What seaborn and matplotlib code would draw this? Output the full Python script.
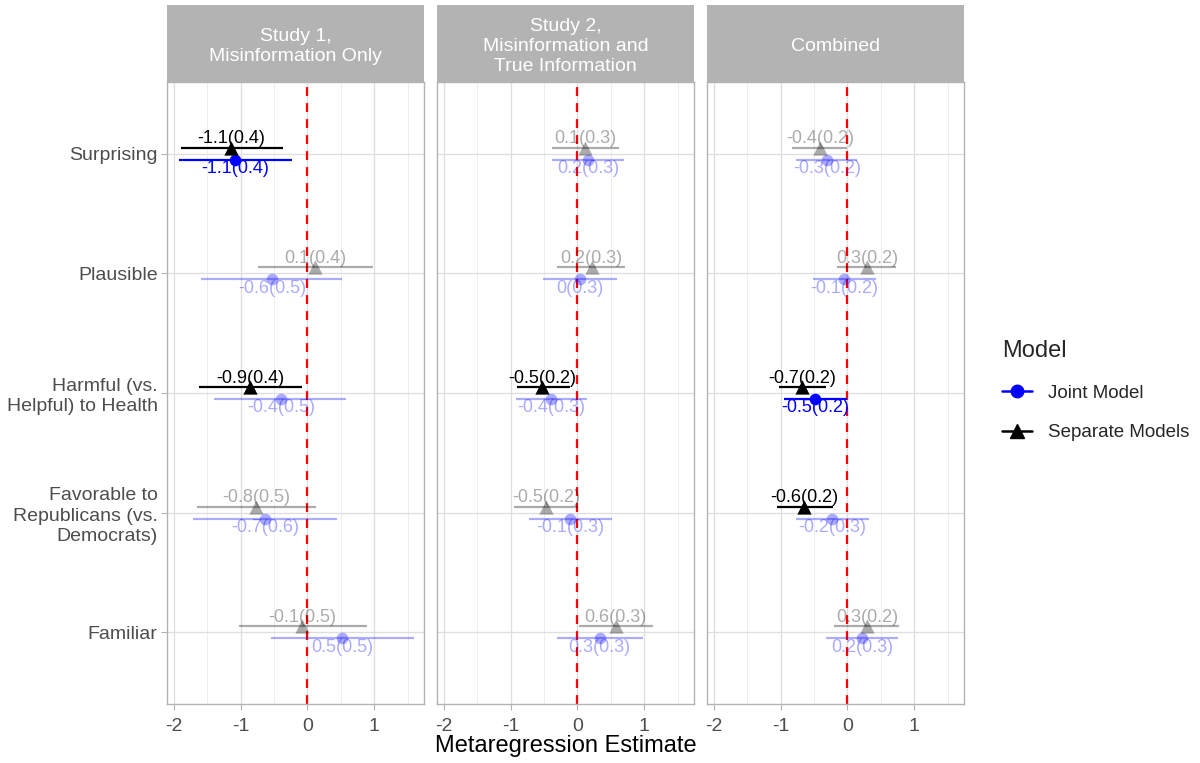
import numpy as np
import pandas as pd
import matplotlib
matplotlib.use("Agg")
import matplotlib.pyplot as plt
import seaborn as sns
from matplotlib.lines import Line2D
from matplotlib.colors import to_rgba

# ---------------- data ----------------
panels = ["Study 1,\nMisinformation Only",
          "Study 2,\nMisinformation and\nTrue Information",
          "Combined"]
outcomes = ["Surprising", "Plausible", "Harmful (vs.\nHelpful) to Health",
            "Favorable to\nRepublicans (vs.\nDemocrats)", "Familiar"]
models = ["Joint Model", "Separate Models"]

# Study 1
sep_est_s1 = [-1.14, 0.11, -0.86, -0.77, -0.08]
sep_lo_s1 = [-1.90, -0.74, -1.62, -1.66, -1.03]
sep_hi_s1 = [-0.36, 0.98, -0.08, 0.13, 0.885]
sep_lab_s1 = ["-1.1(0.4)", "0.1(0.4)", "-0.9(0.4)", "-0.8(0.5)", "-0.1(0.5)"]
sep_sig_s1 = [True, False, True, False, False]
joint_est_s1 = [-1.08, -0.53, -0.40, -0.64, 0.52]
joint_lo_s1 = [-1.93, -1.60, -1.40, -1.72, -0.54]
joint_hi_s1 = [-0.23, 0.51, 0.58, 0.44, 1.60]
joint_lab_s1 = ["-1.1(0.4)", "-0.6(0.5)", "-0.4(0.5)", "-0.7(0.6)", "0.5(0.5)"]
joint_sig_s1 = [True, False, False, False, False]

# Study 2
sep_est_s2 = [0.12, 0.21, -0.53, -0.47, 0.57]
sep_lo_s2 = [-0.38, -0.30, -0.91, -0.95, 0.02]
sep_hi_s2 = [0.62, 0.71, -0.11, 0.005, 1.13]
sep_lab_s2 = ["0.1(0.3)", "0.2(0.3)", "-0.5(0.2)", "-0.5(0.2)", "0.6(0.3)"]
sep_sig_s2 = [False, False, True, False, False]
joint_est_s2 = [0.16, 0.04, -0.40, -0.11, 0.33]
joint_lo_s2 = [-0.38, -0.51, -0.92, -0.72, -0.31]
joint_hi_s2 = [0.69, 0.59, 0.14, 0.51, 0.98]
joint_lab_s2 = ["0.2(0.3)", "0(0.3)", "-0.4(0.3)", "-0.1(0.3)", "0.3(0.3)"]
joint_sig_s2 = [False, False, False, False, False]

# Combined
sep_est_c = [-0.41, 0.29, -0.68, -0.645, 0.29]
sep_lo_c = [-0.83, -0.15, -1.03, -1.06, -0.20]
sep_hi_c = [-0.005, 0.72, -0.32, -0.21, 0.77]
sep_lab_c = ["-0.4(0.2)", "0.3(0.2)", "-0.7(0.2)", "-0.6(0.2)", "0.3(0.2)"]
sep_sig_c = [False, False, True, True, False]
joint_est_c = [-0.30, -0.05, -0.48, -0.23, 0.22]
joint_lo_c = [-0.77, -0.52, -0.95, -0.77, -0.32]
joint_hi_c = [0.15, 0.43, -0.005, 0.32, 0.76]
joint_lab_c = ["-0.3(0.2)", "-0.1(0.2)", "-0.5(0.2)", "-0.2(0.3)", "0.2(0.3)"]
joint_sig_c = [False, False, True, False, False]

x_ticks = [-2, -1, 0, 1]
x_tick_labels = ["-2", "-1", "0", "1"]

# ---------------- build table ----------------
series = [
    (panels[0], "Separate Models", sep_est_s1, sep_lo_s1, sep_hi_s1, sep_lab_s1, sep_sig_s1),
    (panels[0], "Joint Model", joint_est_s1, joint_lo_s1, joint_hi_s1, joint_lab_s1, joint_sig_s1),
    (panels[1], "Separate Models", sep_est_s2, sep_lo_s2, sep_hi_s2, sep_lab_s2, sep_sig_s2),
    (panels[1], "Joint Model", joint_est_s2, joint_lo_s2, joint_hi_s2, joint_lab_s2, joint_sig_s2),
    (panels[2], "Separate Models", sep_est_c, sep_lo_c, sep_hi_c, sep_lab_c, sep_sig_c),
    (panels[2], "Joint Model", joint_est_c, joint_lo_c, joint_hi_c, joint_lab_c, joint_sig_c),
]
rows = []
for pan, mod, est, lo, hi, lab, sig in series:
    for i, o in enumerate(outcomes):
        rows.append(dict(panel=pan, model=mod, outcome=o, oidx=i, est=est[i],
                         lo=lo[i], hi=hi[i], label=lab[i], sig=sig[i]))
df = pd.DataFrame(rows)
offset = {"Separate Models": -0.05, "Joint Model": 0.05}
label_off = {"Separate Models": -0.125, "Joint Model": 0.125}
df["ypos"] = df["oidx"] + df["model"].map(offset)

colors = {"Joint Model": "#0000FF", "Separate Models": "#000000"}
markers = {"Joint Model": "o", "Separate Models": "^"}
msize = {"Joint Model": 70, "Separate Models": 105}
FADE = 0.33

# ---------------- style ----------------
sns.set_theme(style="white")
plt.rcParams["font.family"] = ["Liberation Sans", "DejaVu Sans"]
GREY70 = "#B3B3B3"
GREY87 = "#DEDEDE"
GREY30 = "#4D4D4D"

W, H = 1200, 763
fig = plt.figure(figsize=(W / 100, H / 100), dpi=100)
fig.patch.set_facecolor("white")

px_left = [167.3, 437.3, 707.3]
px_w = 257.0
top_px, bot_px, strip_top = 82.0, 704.0, 5.0

for k, pan in enumerate(panels):
    ax = fig.add_axes([px_left[k] / W, 1 - bot_px / H, px_w / W, (bot_px - top_px) / H])
    sub = df[df["panel"] == pan]
    ax.set_xlim(-2.10, 1.75)
    ax.set_ylim(len(outcomes) - 1 + 0.6, -0.6)
    ax.set_facecolor("white")
    # grid
    for xv in [-1.5, -0.5, 0.5, 1.5]:
        ax.axvline(xv, color="#EBEBEB", lw=0.6, zorder=0)
    for xv in x_ticks:
        ax.axvline(xv, color=GREY87, lw=0.9, zorder=0)
    for yv in range(len(outcomes)):
        ax.axhline(yv, color=GREY87, lw=0.9, zorder=0)
    ax.axvline(0, color="#FF0000", lw=1.6, ls=(0, (4, 3.2)), zorder=1.5)

    # error bars
    for _, r in sub.iterrows():
        c = to_rgba(colors[r["model"]], 1.0 if r["sig"] else FADE)
        ax.hlines(r["ypos"], r["lo"], r["hi"], colors=[c], lw=1.6, zorder=2)
    # points
    for mod in models:
        for sg in [False, True]:
            d = sub[(sub["model"] == mod) & (sub["sig"] == sg)]
            if len(d) == 0:
                continue
            sns.scatterplot(data=d, x="est", y="ypos", ax=ax, color=colors[mod],
                            marker=markers[mod], s=msize[mod], linewidth=0,
                            alpha=1.0 if sg else FADE, legend=False, zorder=3)
    # labels
    for _, r in sub.iterrows():
        c = to_rgba(colors[r["model"]], 1.0 if r["sig"] else FADE)
        ax.text(r["est"], r["oidx"] + label_off[r["model"]], r["label"], color=c,
                ha="center", va="center", fontsize=13, zorder=4)

    ax.set_xticks(x_ticks)
    ax.set_xticklabels(x_tick_labels)
    ax.set_yticks(range(len(outcomes)))
    if k == 0:
        ax.set_yticklabels(outcomes)
        for t in ax.get_yticklabels():
            t.set_linespacing(1.25)
    else:
        ax.set_yticklabels([])
    ax.tick_params(axis="both", colors=GREY70, labelcolor=GREY30, labelsize=14,
                   length=4, width=0.8, pad=3, left=True, bottom=True)
    ax.tick_params(axis="x", pad=6)
    if k != 0:
        ax.tick_params(axis="y", left=False)
    ax.set_xlabel("")
    ax.set_ylabel("")
    for s in ax.spines.values():
        s.set_color(GREY70)
        s.set_linewidth(1.0)

    # strip
    sax = fig.add_axes([px_left[k] / W, 1 - top_px / H, px_w / W, (top_px - strip_top) / H])
    sax.set_facecolor(GREY70)
    sax.set_xticks([])
    sax.set_yticks([])
    for s in sax.spines.values():
        s.set_visible(False)
    sax.text(0.5, 0.46, pan, color="white", ha="center", va="center",
             fontsize=14, linespacing=1.25, transform=sax.transAxes)

fig.text((px_left[0] + px_left[2] + px_w) / 2 / W, 1 - 746 / H, "Metaregression Estimate",
         ha="center", va="center", fontsize=17, color="black")

handles = [Line2D([0], [0], color=colors[m], marker=markers[m], lw=1.8,
                  markersize=9 if m == "Joint Model" else 10) for m in models]
leg = fig.legend(handles, models, title="Model", loc="upper left",
                 bbox_to_anchor=(1002 / W, 1 - 340 / H), frameon=False,
                 fontsize=13.5, title_fontsize=17, handlelength=1.6,
                 labelspacing=1.2, handletextpad=0.85, borderaxespad=0,
                 borderpad=0)
leg._legend_box.align = "left"

fig.savefig("out.png", dpi=100, facecolor="white")
